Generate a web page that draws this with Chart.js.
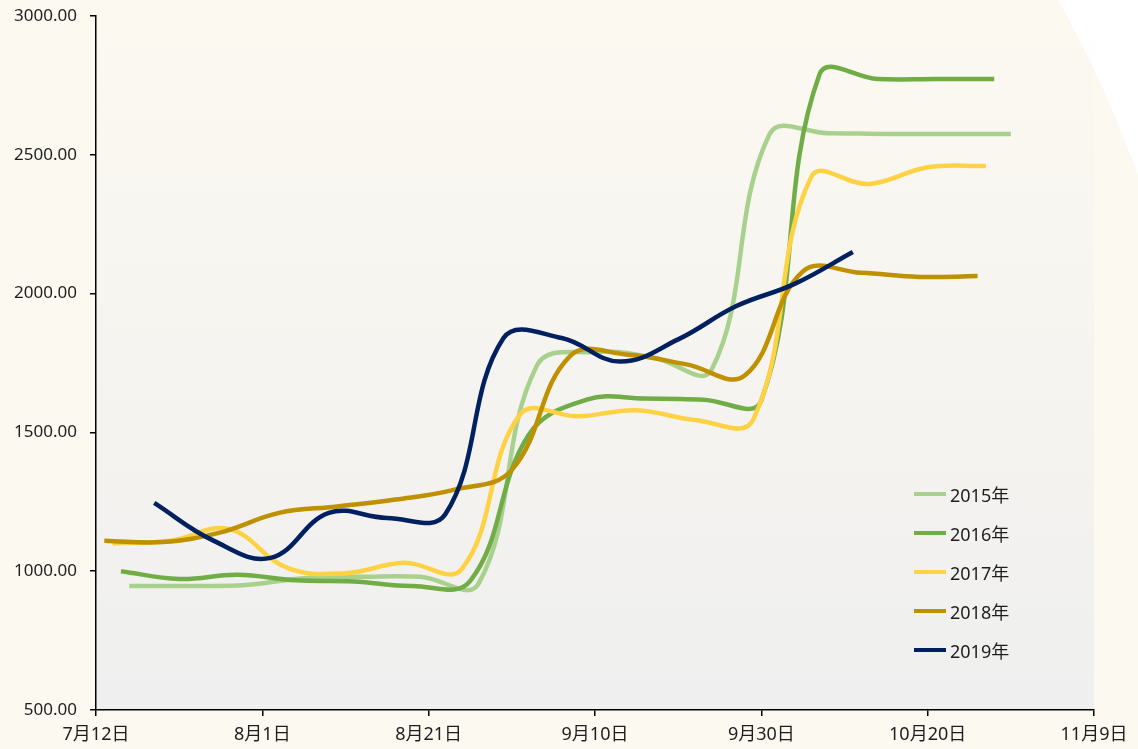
<!DOCTYPE html>
<html>
<head>
<meta charset="utf-8">
<script src="https://cdn.jsdelivr.net/npm/chart.js@4"></script>
<style>
  body { margin: 0; background: #fff; }
  #wrap { position: relative; width: 1138px; height: 749px; }
  #legend { position: absolute; left: 914px; top: 475px; font: 18px "Noto Sans", "Noto Sans CJK SC", sans-serif; color: #1e1e1e; }
  #legend .row { display: flex; align-items: center; height: 38.8px; }
  #legend .swatch { width: 32px; height: 4px; margin-right: 4px; }
</style>
</head>
<body>
<div id="wrap">
  <canvas id="chart" width="1138" height="749"></canvas>
  <div id="legend"></div>
</div>
<script>
// x positions are days counted from 7月12日
const xTickLabels = ['7月12日', '8月1日', '8月21日', '9月10日', '9月30日', '10月20日', '11月9日'];
const seriesNames = ['2015年', '2016年', '2017年', '2018年', '2019年'];
const seriesColors = ['#a9d18e', '#70ad47', '#ffd243', '#bf9000', '#002060'];

const days2015 = [4, 11, 18, 25, 32, 39, 46, 53, 60, 67, 74, 81, 88, 95, 102, 110];
const vals2015 = [947, 947, 950, 975, 980, 980, 955, 1740, 1790, 1770, 1725, 2575, 2578, 2575, 2575, 2575];

const days2016 = [3, 10, 17, 24, 31, 38, 45, 52, 59, 66, 73, 80, 87, 94, 101, 108];
const vals2016 = [1000, 972, 987, 967, 963, 947, 965, 1490, 1618, 1622, 1618, 1615, 2790, 2773, 2773, 2773];

const days2017 = [2, 9, 16, 23, 30, 37, 44, 51, 58, 65, 72, 79, 86, 93, 100, 107];
const vals2017 = [1100, 1110, 1152, 1012, 993, 1030, 1008, 1565, 1558, 1580, 1545, 1545, 2420, 2395, 2455, 2460];

const days2018 = [1, 8, 15, 22, 29, 36, 43, 50, 57, 64, 71, 78, 85, 92, 99, 106];
const vals2018 = [1110, 1105, 1140, 1210, 1233, 1258, 1293, 1365, 1775, 1780, 1745, 1705, 2080, 2075, 2060, 2063];

const days2019 = [7, 14, 21, 28, 35, 42, 49, 56, 63, 70, 77, 84, 91];
const vals2019 = [1246, 1112, 1048, 1210, 1192, 1205, 1840, 1840, 1755, 1835, 1955, 2035, 2150];

const allDays = [days2015, days2016, days2017, days2018, days2019];
const allVals = [vals2015, vals2016, vals2017, vals2018, vals2019];

const fontFamily = '"Noto Sans", "Noto Sans CJK SC", sans-serif';

const bgPlugin = {
    id: 'bg',
    beforeDraw(chart) {
        const {ctx, chartArea: a} = chart;
        ctx.save();
        ctx.fillStyle = '#ffffff';
        ctx.fillRect(0, 0, chart.width, chart.height);
        ctx.beginPath();
        ctx.ellipse(400, 650, 820, 1090, 0, 0, Math.PI * 2);
        ctx.fillStyle = '#fcf9f1';
        ctx.fill();
        const g = ctx.createLinearGradient(0, a.top, 0, a.bottom);
        g.addColorStop(0, 'rgba(239,239,239,0)');
        g.addColorStop(1, 'rgba(239,239,239,1)');
        ctx.fillStyle = g;
        ctx.fillRect(a.left, a.top, a.right - a.left, a.bottom - a.top);
        ctx.restore();
    }
};

const datasets = seriesNames.map((name, i) => ({
    label: name,
    data: allDays[i].map((d, k) => ({x: d, y: allVals[i][k]})),
    borderColor: seriesColors[i],
    borderWidth: 4.5,
    pointRadius: 0,
    tension: 0.4,
    fill: false,
    order: 5 - i
}));

new Chart(document.getElementById('chart'), {
    type: 'line',
    data: {datasets},
    options: {
        responsive: false,
        animation: false,
        layout: {padding: {top: 16, right: 44, left: 0, bottom: 0}},
        plugins: {legend: {display: false}, tooltip: {enabled: false}},
        scales: {
            x: {
                type: 'linear',
                min: 0,
                max: 120,
                afterFit: (s) => { s.height = 39; },
                border: {color: '#000', width: 1.5},
                grid: {drawOnChartArea: false, color: '#000', lineWidth: 1.5, tickLength: 6},
                ticks: {
                    stepSize: 20,
                    padding: 8,
                    color: '#1e1e1e',
                    font: {size: 18, family: fontFamily},
                    maxRotation: 0,
                    callback: (v) => xTickLabels[v / 20]
                }
            },
            y: {
                min: 500,
                max: 3000,
                afterFit: (s) => { s.width = 96; s.paddingTop = 8; s.paddingBottom = 8; },
                border: {color: '#000', width: 1.5},
                grid: {drawOnChartArea: false, color: '#000', lineWidth: 1.5, tickLength: 6},
                ticks: {
                    stepSize: 500,
                    padding: 13,
                    color: '#1e1e1e',
                    font: {size: 17, family: fontFamily},
                    callback: (v) => v.toFixed(2)
                }
            }
        }
    },
    plugins: [bgPlugin]
});

const legend = document.getElementById('legend');
seriesNames.forEach((name, i) => {
    const row = document.createElement('div');
    row.className = 'row';
    row.innerHTML = '<span class="swatch" style="background:' + seriesColors[i] + '"></span><span>' + name + '</span>';
    legend.appendChild(row);
});
</script>
</body>
</html>
